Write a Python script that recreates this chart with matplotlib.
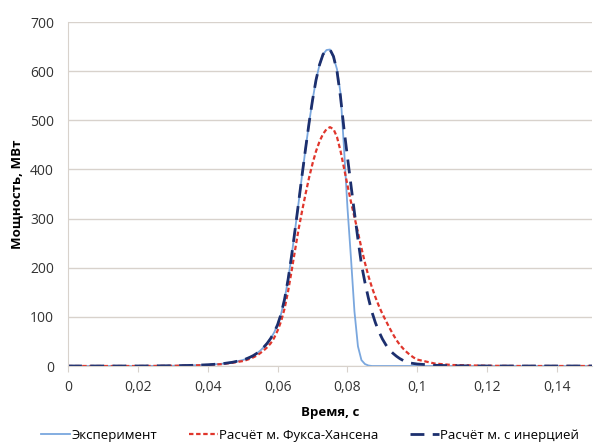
import matplotlib
matplotlib.use("Agg")
import matplotlib.pyplot as plt
from matplotlib.ticker import FuncFormatter, MultipleLocator

plt.rcParams['font.family'] = ['Open Sans', 'DejaVu Sans']

# time, s
t = [0, 0.01, 0.02, 0.03, 0.035, 0.04, 0.044, 0.047,
     0.050, 0.051, 0.052, 0.053, 0.054, 0.055, 0.056, 0.057, 0.058, 0.059,
     0.060, 0.061, 0.062, 0.063, 0.064, 0.065, 0.066, 0.067, 0.068, 0.069,
     0.070, 0.071, 0.072, 0.073, 0.074, 0.075, 0.076, 0.077, 0.078, 0.079,
     0.080, 0.081, 0.082, 0.083, 0.084, 0.085, 0.086, 0.087, 0.088, 0.089,
     0.090, 0.091, 0.092, 0.093, 0.094, 0.095, 0.096, 0.097, 0.098, 0.099,
     0.100, 0.105, 0.11, 0.12, 0.13, 0.14, 0.15]

# power, MW
experiment = [0, 0, 0, 0.5, 1.2, 2.5, 4.5, 7.5,
              12, 14.5, 17.5, 21, 25.5, 31, 38, 46, 56, 68,
              84, 106, 136, 176, 224, 277, 332, 388, 442, 494,
              541, 582, 613, 634, 643, 644, 628, 604, 556, 445,
              322, 220, 111, 40, 12, 4, 1, 0, 0, 0,
              0, 0, 0, 0, 0, 0, 0, 0, 0, 0,
              0, 0, 0, 0, 0, 0, 0]
fuchs_hansen = [0, 0, 0, 0.4, 1, 2, 3.8, 6.5,
                10, 12, 14.5, 17.5, 21, 26, 31.5, 38, 46, 57,
                72, 91, 117, 152, 193, 236, 278, 315, 350, 383,
                412, 437, 457, 472, 482, 486, 482, 466, 438, 403,
                368, 334, 303, 272, 240, 210, 183, 160, 140, 122,
                106, 92, 78, 65, 53, 43, 35, 28, 22, 17,
                13, 5, 2, 0.5, 0, 0, 0]
inertia = [0, 0, 0, 0.5, 1.2, 2.5, 4.5, 7.5,
           12, 14.5, 17.5, 21, 25.5, 31, 38, 46, 56, 68,
           84, 106, 136, 176, 224, 277, 332, 388, 442, 494,
           541, 582, 613, 634, 643, 644, 630, 600, 548, 483,
           425, 368, 312, 258, 207, 170, 138, 110, 88, 70,
           55, 43, 33, 26, 20, 15, 11, 8, 6, 5,
           4, 1.5, 0.5, 0, 0, 0, 0]

labels = ['Эксперимент', 'Расчёт м. Фукса-Хансена', 'Расчёт м. с инерцией']

fig = plt.figure(figsize=(5.96, 4.44), dpi=100)
ax = fig.add_axes([68 / 596, 1 - 366 / 444, 524 / 596, 344 / 444])

ax.plot(t, experiment, color='#7aa7de', lw=1.3, label=labels[0])
ax.plot(t, fuchs_hansen, color='#e0362c', lw=1.6, linestyle=(0, (2, 1.2)),
        label=labels[1])
ax.plot(t, inertia, color='#1c2f6e', lw=2.0, linestyle=(0, (5, 3)),
        label=labels[2])

ax.set_xlim(0, 0.15)
ax.set_ylim(0, 700)
ax.xaxis.set_major_locator(MultipleLocator(0.02))
ax.yaxis.set_major_locator(MultipleLocator(100))
ax.xaxis.set_major_formatter(FuncFormatter(lambda v, p: ('%g' % round(v, 4)).replace('.', ',')))

ax.grid(axis='y', color='#d8d2cc', lw=1.0)
ax.set_axisbelow(True)
for s in ['top', 'right']:
    ax.spines[s].set_visible(False)
ax.spines['left'].set_color('#d8d2cc')
ax.spines['bottom'].set_color('#d8d2cc')
ax.tick_params(axis='y', length=0, pad=10, labelsize=10, labelcolor='#333333')
ax.tick_params(axis='x', length=4, color='#d8d2cc', pad=6, labelsize=10,
               labelcolor='#333333')

ax.set_xlabel('Время, с', fontsize=9.5, fontweight='bold', labelpad=8)
ax.set_ylabel('Мощность, МВт', fontsize=9.5, fontweight='bold', labelpad=5)

fig.legend(loc='lower left', bbox_to_anchor=(29 / 596, -0.022), ncol=3,
           frameon=False, fontsize=9.5, handlelength=2.2, handletextpad=0.1,
           columnspacing=2.4)

fig.savefig('out.png', dpi=100)
